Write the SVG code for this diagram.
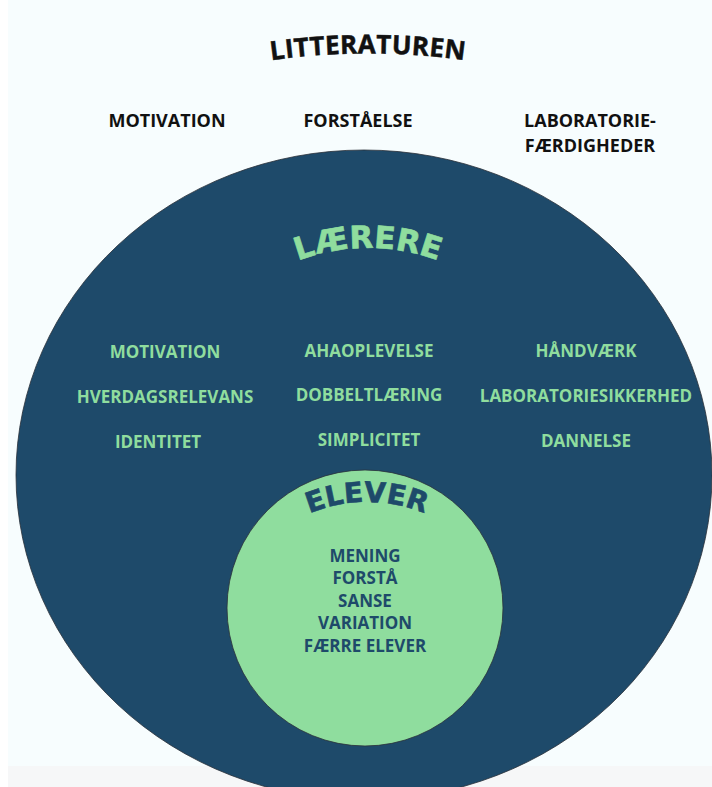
<svg xmlns="http://www.w3.org/2000/svg" width="712" height="787" viewBox="0 0 712 787">
  <defs>
    <style>
      .blk { font-family: "Open Sans", "Liberation Sans", sans-serif; font-weight: 700; font-size: 18px; fill: #111111; text-anchor: middle; }
      .grn { font-family: "Open Sans", "Liberation Sans", sans-serif; font-weight: 700; font-size: 17px; fill: #8fdd9e; text-anchor: middle; }
      .blu { font-family: "Open Sans", "Liberation Sans", sans-serif; font-weight: 700; font-size: 17px; fill: #1e4a6a; text-anchor: middle; }
      .arc { font-family: "DejaVu Sans", "Open Sans", sans-serif; font-weight: 700; text-anchor: middle; }
    </style>
    <path id="arcLit" d="M68,121 A700,700 0 0 1 668,121"/>
    <path id="arcLae" d="M168,448 A200,200 0 0 1 568,448"/>
    <path id="arcEle" d="M217,652 A150,150 0 0 1 517,652"/>
  </defs>

  <g id="background">
    <rect x="0" y="0" width="712" height="787" fill="#ffffff"/>
    <rect x="8" y="0" width="704" height="766" fill="#f7fdfe"/>
    <rect x="8" y="766" width="704" height="21" fill="#f6f7f8"/>
  </g>

  <g id="litteraturen">
    <text font-family="'Open Sans', 'Liberation Sans', sans-serif" font-weight="700" font-size="26" fill="#111111" stroke="#111111" stroke-width="0.5" text-anchor="middle" letter-spacing="0.3"><textPath href="#arcLit" startOffset="50%">LITTERATUREN</textPath></text>
    <text class="blk" x="167" y="127">MOTIVATION</text>
    <text class="blk" x="358" y="127">FORSTÅELSE</text>
    <text class="blk" x="590" y="127">LABORATORIE-</text>
    <text class="blk" x="590" y="152">FÆRDIGHEDER</text>
  </g>

  <g id="laerere">
    <ellipse cx="364" cy="475" rx="348" ry="325" fill="#1e4a6a" stroke="#2a3038" stroke-width="0.8"/>
    <text class="arc" font-size="31" fill="#8fdd9e" stroke="#8fdd9e" stroke-width="0.6" letter-spacing="0"><textPath href="#arcLae" startOffset="50%">LÆRERE</textPath></text>
    <text class="grn" x="165" y="358">MOTIVATION</text>
    <text class="grn" x="165" y="403">HVERDAGSRELEVANS</text>
    <text class="grn" x="158" y="448">IDENTITET</text>
    <text class="grn" x="369" y="357">AHAOPLEVELSE</text>
    <text class="grn" x="369" y="401">DOBBELTLÆRING</text>
    <text class="grn" x="369" y="446">SIMPLICITET</text>
    <text class="grn" x="586" y="357">HÅNDVÆRK</text>
    <text class="grn" x="586" y="402">LABORATORIESIKKERHED</text>
    <text class="grn" x="586" y="447">DANNELSE</text>
  </g>

  <g id="elever">
    <circle cx="365" cy="608" r="138" fill="#8fdd9e" stroke="#2a3038" stroke-width="0.8"/>
    <text class="arc" font-size="28" fill="#1e4a6a" stroke="#1e4a6a" stroke-width="0.6" letter-spacing="0"><textPath href="#arcEle" startOffset="50%">ELEVER</textPath></text>
    <text class="blu" x="365" y="562">MENING</text>
    <text class="blu" x="365" y="584">FORSTÅ</text>
    <text class="blu" x="365" y="607">SANSE</text>
    <text class="blu" x="365" y="629">VARIATION</text>
    <text class="blu" x="365" y="652">FÆRRE ELEVER</text>
  </g>

  <g id="connectors"></g>
</svg>
